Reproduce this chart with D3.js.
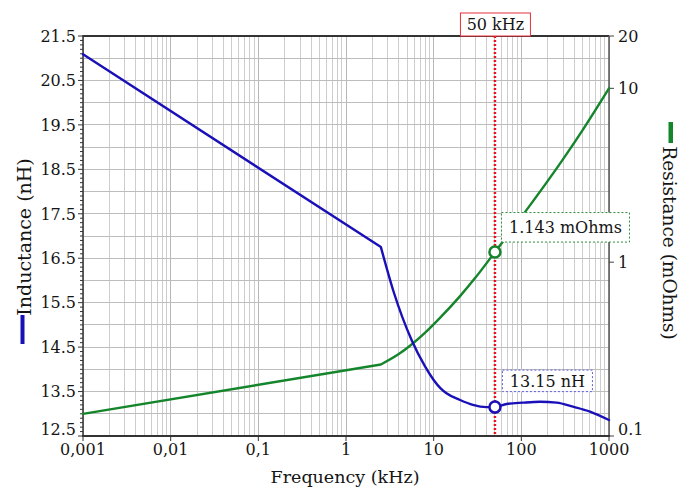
<!DOCTYPE html>
<html><head><meta charset="utf-8">
<script src="https://cdn.jsdelivr.net/npm/d3@7"></script>
<style>body{margin:0;background:#fff}text{font-family:"DejaVu Serif",serif;fill:#151515}</style>
</head><body><svg id="c" width="684" height="490"></svg>
<script>
// ---- data ----
const freqL = [0.001, 2.5, 3.5, 5.6, 8, 10, 12, 14, 20, 28, 40, 50, 68, 104, 163, 253, 388, 607, 1000];
const inductance = [21.09, 16.75, 15.74, 14.66, 14.06, 13.76, 13.57, 13.46, 13.31, 13.20, 13.15, 13.15, 13.22, 13.25, 13.27, 13.25, 13.16, 13.05, 12.86];
const freqR = [0.001, 2.5, 4, 5.6, 8, 11.8, 20, 30, 50, 110, 276, 500, 1000];
const resistance = [0.134, 0.258, 0.296, 0.336, 0.393, 0.478, 0.638, 0.815, 1.143, 1.94, 3.69, 5.75, 10];
const kinkIndex = 1;
const xTicks = [0.001, 0.01, 0.1, 1, 10, 100, 1000];
const xTickLabels = ["0,001", "0,01", "0,1", "1", "10", "100", "1000"];
const yLeftTicks = [12.5, 13.5, 14.5, 15.5, 16.5, 17.5, 18.5, 19.5, 20.5, 21.5];
const yRightTicks = [0.1, 1, 10, 20];
const yRightLabels = ["0.1", "1", "10", "20"];
const markerFreq = 50;
const markerL = 13.15;
const markerR = 1.143;
const markerFreqLabel = "50 kHz";
const markerLLabel = "13.15 nH";
const markerRLabel = "1.143 mOhms";

// ---- layout ----
const L = 83, R = 609, T = 36, B = 436;
const blue = "#1a10b8", green = "#14852b", red = "#e8141e";
const svg = d3.select("#c");
const x = d3.scaleLog().domain([0.001, 1000]).range([L, R]);
const yL = d3.scaleLinear().domain([12.5, 21.5]).range([B, T]);
const yR = d3.scaleLog().domain([0.1, 20]).range([B, T]);

// grid
const g = svg.append("g");
const vGrid = [];
[0.001, 0.01, 0.1, 1, 10, 100].forEach(d => { for (let m = 1; m <= 9; m++) vGrid.push(d * m); });
vGrid.push(1000);
g.selectAll("line.v").data(vGrid).join("line")
  .attr("x1", d => x(d)).attr("x2", d => x(d)).attr("y1", T).attr("y2", B)
  .attr("stroke", d => xTicks.includes(d) ? "#b8b8b8" : "#cdcdcd").attr("stroke-width", 1)
  .attr("shape-rendering", "crispEdges");
const hGrid = d3.range(125, 216, 5).map(v => v / 10);
g.selectAll("line.h").data(hGrid).join("line")
  .attr("x1", L).attr("x2", R).attr("y1", d => yL(d)).attr("y2", d => yL(d))
  .attr("stroke", "#bdbdbd").attr("stroke-width", 1).attr("shape-rendering", "crispEdges");

// frame
svg.append("line").attr("x1", L).attr("x2", R).attr("y1", T).attr("y2", T).attr("stroke", "#333").attr("stroke-width", 2);
svg.append("line").attr("x1", R).attr("x2", R).attr("y1", T).attr("y2", B).attr("stroke", "#555").attr("stroke-width", 1.5);

// left axis
const ax = svg.append("g");
const minor = d3.range(125, 216).map(v => v / 10);
ax.selectAll("line.mt").data(minor).join("line")
  .attr("x1", L).attr("x2", d => L - (yLeftTicks.includes(d) ? 5 : 3))
  .attr("y1", d => yL(d)).attr("y2", d => yL(d)).attr("stroke", "#333").attr("stroke-width", 1);
ax.append("line").attr("x1", L).attr("x2", L).attr("y1", T - 1).attr("y2", B + 1).attr("stroke", "#333").attr("stroke-width", 1.5);
ax.selectAll("text.yl").data(yLeftTicks).join("text")
  .attr("x", L - 7).attr("y", d => yL(d) + (d === 12.5 ? -7 : 0)).attr("dy", "0.36em")
  .attr("text-anchor", "end").attr("font-size", 16).text(d => d3.format(".1f")(d));

// right axis
ax.selectAll("line.rt").data(yRightTicks).join("line")
  .attr("x1", R).attr("x2", R + 5).attr("y1", d => yR(d)).attr("y2", d => yR(d)).attr("stroke", "#444").attr("stroke-width", 1);
ax.selectAll("text.yr").data(yRightTicks).join("text")
  .attr("x", R + 9).attr("y", d => yR(d) + (d === 0.1 ? -7 : 0)).attr("dy", "0.36em")
  .attr("text-anchor", "start").attr("font-size", 16).text((d, i) => yRightLabels[i]);

// bottom axis
ax.selectAll("line.xt").data(xTicks).join("line")
  .attr("x1", d => x(d)).attr("x2", d => x(d)).attr("y1", B).attr("y2", B + 5).attr("stroke", "#333").attr("stroke-width", 1);
ax.append("line").attr("x1", L - 1).attr("x2", R + 1).attr("y1", B).attr("y2", B).attr("stroke", "#333").attr("stroke-width", 2);
ax.selectAll("text.xl").data(xTicks).join("text")
  .attr("x", d => x(d)).attr("y", 455).attr("text-anchor", "middle").attr("font-size", 16)
  .text((d, i) => xTickLabels[i]);

// titles
svg.append("text").attr("x", (L + R) / 2 - 1).attr("y", 483).attr("text-anchor", "middle").attr("font-size", 17.5).text("Frequency (kHz)");
svg.append("text").attr("transform", "translate(31,237) rotate(-90)").attr("text-anchor", "middle").attr("font-size", 19).text("Inductance (nH)");
svg.append("rect").attr("x", 20.5).attr("y", 315).attr("width", 4).attr("height", 29).attr("fill", blue);
svg.append("text").attr("transform", "translate(663,243) rotate(90)").attr("text-anchor", "middle").attr("font-size", 18.5).text("Resistance (mOhms)");
svg.append("rect").attr("x", 668.5).attr("y", 122).attr("width", 4.5).attr("height", 21).attr("fill", green);

// series
function seriesPath(fs, vs, ys) {
  const pts = fs.map((f, i) => [x(f), ys(vs[i])]);
  const lin = d3.line();
  const mono = d3.line().curve(d3.curveMonotoneX);
  return lin(pts.slice(0, kinkIndex + 1)) + mono(pts.slice(kinkIndex));
}
svg.append("path").attr("d", seriesPath(freqR, resistance, yR)).attr("fill", "none")
  .attr("stroke", green).attr("stroke-width", 2.4).attr("stroke-linejoin", "round").attr("stroke-linecap", "round");
svg.append("path").attr("d", seriesPath(freqL, inductance, yL)).attr("fill", "none")
  .attr("stroke", blue).attr("stroke-width", 2.4).attr("stroke-linejoin", "round").attr("stroke-linecap", "round");

// marker line
const mx = x(markerFreq);
svg.append("line").attr("x1", mx).attr("x2", mx).attr("y1", T).attr("y2", B)
  .attr("stroke", red).attr("stroke-width", 2.5).attr("stroke-dasharray", "2,2");

// annotation boxes
function box(cx0, y0, w, h, stroke, dash, label) {
  svg.append("rect").attr("x", cx0).attr("y", y0).attr("width", w).attr("height", h)
    .attr("fill", "#fff").attr("stroke", stroke).attr("stroke-width", 1).attr("stroke-dasharray", dash);
  svg.append("text").attr("x", cx0 + w / 2).attr("y", y0 + h / 2).attr("dy", "0.36em")
    .attr("text-anchor", "middle").attr("font-size", 16).text(label);
}
box(mx - 34.5, 13, 70, 23, "#e8303a", null, markerFreqLabel);
box(mx + 6.5, yR(markerR) - 39.5, 128, 29.5, "#2a8a3a", "2,2", markerRLabel);
box(mx + 7.5, yL(markerL) - 37, 90, 21.5, "#6060d8", "2,2", markerLLabel);

// markers
svg.append("circle").attr("cx", mx).attr("cy", yR(markerR)).attr("r", 5.5)
  .attr("fill", "#fff").attr("stroke", green).attr("stroke-width", 2.5);
svg.append("circle").attr("cx", mx).attr("cy", yL(markerL)).attr("r", 5.5)
  .attr("fill", "#fff").attr("stroke", blue).attr("stroke-width", 2.5);
</script></body></html>
